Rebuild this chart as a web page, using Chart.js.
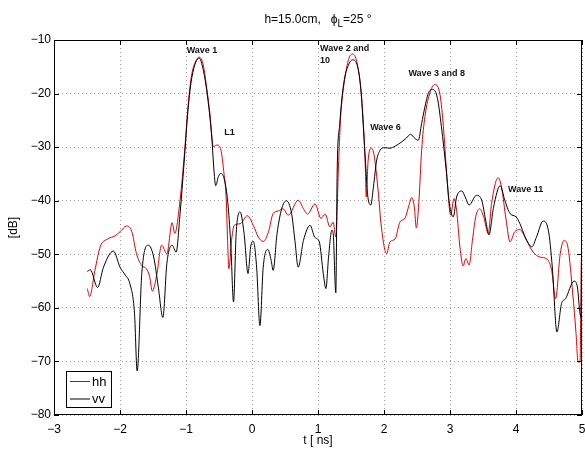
<!DOCTYPE html>
<html>
<head>
<meta charset="utf-8">
<script src="https://cdn.jsdelivr.net/npm/chart.js@4.4.0/dist/chart.umd.min.js"></script>
<style>
  html, body { margin: 0; padding: 0; background: #fff; }
  #wrap { width: 585px; height: 449px; }
</style>
</head>
<body>
<div id="wrap"><canvas id="chart" width="585" height="449"></canvas></div>
<script>
// hh polarisation (red)
const tHH = [
  -2.495, -2.46, -2.38, -2.30, -2.18, -2.08, -2.00, -1.90, -1.82, -1.75,
  -1.67, -1.60, -1.55, -1.51, -1.44, -1.37, -1.29, -1.21, -1.17, -1.09,
  -1.02, -0.97, -0.92, -0.85, -0.80, -0.74, -0.68, -0.64, -0.585, -0.53,
  -0.47, -0.43, -0.39, -0.37, -0.35, -0.31, -0.27, -0.18, -0.07, 0.02,
  0.096, 0.17, 0.25, 0.32, 0.40, 0.47, 0.55, 0.70, 0.78, 0.84,
  0.955, 1.045, 1.11, 1.18, 1.23, 1.27, 1.31, 1.34, 1.41, 1.47,
  1.525, 1.58, 1.64, 1.69, 1.72, 1.73, 1.76, 1.81, 1.85, 1.91,
  1.96, 2.04, 2.09, 2.17, 2.24, 2.32, 2.37, 2.42, 2.46, 2.49,
  2.53, 2.57, 2.62, 2.70, 2.77, 2.85, 2.90, 2.95, 3.01, 3.06,
  3.10, 3.15, 3.20, 3.24, 3.29, 3.34, 3.39, 3.45, 3.51, 3.58,
  3.63, 3.73, 3.78, 3.85, 3.91, 3.98, 4.06, 4.16, 4.26, 4.36,
  4.47, 4.54, 4.60, 4.67, 4.73, 4.79, 4.86, 4.91, 4.94, 4.97,
  4.99, 5.0
];
const dbHH = [
  -56.4, -57.9, -53.0, -48.6, -47.1, -46.6, -45.8, -44.7, -45.8, -49.9,
  -52.1, -52.7, -54.2, -56.9, -53.6, -48.3, -49.9, -44.1, -46.1, -39.9,
  -30.6, -22.5, -16.9, -13.9, -13.2, -14.6, -19.5, -23.5, -29.9, -29.6,
  -30.6, -34.3, -39.9, -47.4, -52.7, -47.4, -44.6, -44.3, -42.8, -44.6,
  -46.8, -47.6, -45.8, -42.4, -41.9, -41.5, -42.7, -39.9, -41.5, -42.5,
  -40.6, -43.3, -42.5, -44.9, -44.0, -46.8, -33.7, -25.0, -16.9, -13.4,
  -12.6, -13.7, -18.1, -26.2, -34.9, -39.3, -32.4, -30.2, -31.5, -38.0,
  -44.9, -49.9, -47.7, -47.1, -44.0, -43.2, -41.2, -39.4, -41.2, -45.1,
  -39.9, -30.6, -24.3, -19.7, -18.3, -20.3, -26.2, -34.9, -42.7, -39.6,
  -41.8, -48.6, -52.2, -50.8, -52.0, -47.4, -43.0, -41.5, -43.0, -46.1,
  -40.5, -35.7, -37.4, -43.6, -47.7, -45.8, -45.4, -47.4, -49.6, -50.5,
  -50.9, -53.0, -58.3, -49.9, -47.4, -48.9, -57.4, -64.8, -70.1, -70.1,
  -51.1, -50.0
];

// vv polarisation (black)
const tVV = [
  -2.495, -2.45, -2.34, -2.25, -2.10, -2.00, -1.92, -1.85, -1.78, -1.74,
  -1.67, -1.57, -1.49, -1.42, -1.35, -1.29, -1.21, -1.15, -1.09, -1.03,
  -0.97, -0.91, -0.80, -0.74, -0.68, -0.61, -0.58, -0.55, -0.51, -0.47,
  -0.41, -0.36, -0.32, -0.28, -0.24, -0.18, -0.12, -0.06, -0.02, 0.02,
  0.07, 0.12, 0.17, 0.24, 0.29, 0.32, 0.38, 0.45, 0.52, 0.60,
  0.65, 0.70, 0.78, 0.88, 0.95, 1.02, 1.08, 1.12, 1.16, 1.21,
  1.23, 1.27, 1.29, 1.33, 1.39, 1.46, 1.525, 1.60, 1.65, 1.69,
  1.73, 1.75, 1.80, 1.84, 1.89, 1.94, 2.01, 2.09, 2.17, 2.27,
  2.34, 2.40, 2.47, 2.52, 2.57, 2.62, 2.67, 2.74, 2.81, 2.87,
  2.94, 2.99, 3.05, 3.10, 3.18, 3.23, 3.29, 3.40, 3.48, 3.54,
  3.59, 3.66, 3.76, 3.83, 3.91, 4.00, 4.06, 4.14, 4.24, 4.31,
  4.41, 4.49, 4.55, 4.62, 4.69, 4.75, 4.88, 4.93, 4.97, 5.0
];
const dbVV = [
  -53.2, -52.9, -56.2, -52.4, -49.4, -52.4, -53.9, -55.5, -61.1, -71.8,
  -53.6, -48.3, -50.5, -56.1, -61.8, -51.7, -48.3, -49.6, -42.4, -33.1,
  -23.1, -16.9, -13.4, -15.5, -20.0, -28.1, -33.7, -37.2, -35.5, -34.9,
  -36.5, -41.2, -48.6, -58.9, -46.1, -42.1, -46.1, -53.6, -48.6, -47.6,
  -52.4, -63.3, -52.4, -49.1, -51.1, -53.0, -46.1, -41.5, -40.0, -42.4,
  -47.4, -52.4, -47.4, -44.6, -46.8, -47.7, -53.6, -56.4, -50.5, -45.5,
  -46.1, -57.2, -34.9, -25.6, -18.1, -14.7, -13.7, -15.0, -19.3, -26.8,
  -34.9, -38.7, -40.8, -37.4, -32.4, -30.6, -30.1, -30.2, -29.8, -29.0,
  -28.3, -27.6, -28.4, -28.7, -25.6, -22.5, -20.0, -19.2, -20.9, -26.2,
  -34.0, -40.5, -43.0, -39.3, -38.2, -39.3, -40.8, -39.0, -39.9, -43.6,
  -46.4, -41.2, -37.2, -39.9, -42.4, -43.0, -44.3, -46.8, -48.6, -46.8,
  -43.8, -45.5, -52.4, -64.5, -59.2, -58.3, -55.0, -56.1, -61.1, -62.0
];

const xTicks = [-3, -2, -1, 0, 1, 2, 3, 4, 5];
const yTicks = [-80, -70, -60, -50, -40, -30, -20, -10];

// text notes in data coordinates (left edge, vertical middle)
const noteText = ['Wave 1', 'L1', 'Wave 2 and', '10', 'Wave 6', 'Wave 3 and 8', 'Wave 11'];
const noteT    = [-0.99, -0.42, 1.03, 1.03, 1.79, 2.37, 3.88];
const noteDb   = [-12.05, -27.2, -11.55, -13.85, -26.4, -16.2, -38.0];

const RED = '#e00000';
const FONT = '"Liberation Sans", Arial, Helvetica, sans-serif';

function pts(t, v) {
  return t.map((x, i) => ({ x: x, y: v[i] }));
}

function minus(v) {
  return v < 0 ? '\u2212' + Math.abs(v) : String(v);
}

const decor = {
  id: 'decor',
  afterDraw(chart) {
    const ctx = chart.ctx;
    const a = chart.chartArea;
    const xs = chart.scales.x, ys = chart.scales.y;
    ctx.save();

    // box + inward ticks
    ctx.strokeStyle = '#000';
    ctx.lineWidth = 1;
    ctx.strokeRect(Math.round(a.left) + 0.5, Math.round(a.top) + 0.5,
                   Math.round(a.right - a.left) - 1, Math.round(a.bottom - a.top) - 1);
    ctx.beginPath();
    xTicks.forEach(v => {
      const px = Math.round(xs.getPixelForValue(v)) + 0.5;
      ctx.moveTo(px, a.bottom); ctx.lineTo(px, a.bottom - 5);
      ctx.moveTo(px, a.top); ctx.lineTo(px, a.top + 5);
    });
    yTicks.forEach(v => {
      const py = Math.round(ys.getPixelForValue(v)) + 0.5;
      ctx.moveTo(a.left, py); ctx.lineTo(a.left + 5, py);
      ctx.moveTo(a.right, py); ctx.lineTo(a.right - 5, py);
    });
    ctx.stroke();

    // notes
    ctx.fillStyle = '#111';
    ctx.font = 'bold 9px ' + FONT;
    ctx.textAlign = 'left';
    ctx.textBaseline = 'middle';
    noteText.forEach((s, i) => {
      ctx.fillText(s, xs.getPixelForValue(noteT[i]), ys.getPixelForValue(noteDb[i]));
    });

    // title with subscript
    ctx.fillStyle = '#000';
    ctx.textBaseline = 'alphabetic';
    const f = '12px ' + FONT, fs = '10px ' + FONT;
    const p1 = 'h=15.0cm,   \u03d5', p2 = 'L', p3 = '=25 \u00b0';
    ctx.font = f; const w1 = ctx.measureText(p1).width, w3 = ctx.measureText(p3).width;
    ctx.font = fs; const w2 = ctx.measureText(p2).width;
    let x0 = (a.left + a.right) / 2 - (w1 + w2 + w3) / 2;
    const by = 23;
    ctx.font = f; ctx.fillText(p1, x0, by); x0 += w1;
    ctx.font = fs; ctx.fillText(p2, x0, by + 4); x0 += w2;
    ctx.font = f; ctx.fillText(p3, x0, by);

    // axis titles
    ctx.font = '12px ' + FONT;
    ctx.textAlign = 'center';
    ctx.fillText('t [ ns]', (a.left + a.right) / 2, 444);
    ctx.save();
    ctx.translate(17, (a.top + a.bottom) / 2);
    ctx.rotate(-Math.PI / 2);
    ctx.fillText('[dB]', 0, 0);
    ctx.restore();

    // legend
    ctx.fillStyle = '#fff';
    ctx.fillRect(66, 371, 45, 36);
    ctx.strokeStyle = '#000';
    ctx.strokeRect(66.5, 371.5, 45, 36);
    const rows = [['hh', RED, 381.5], ['vv', '#000', 399]];
    rows.forEach(r => {
      ctx.strokeStyle = r[1];
      ctx.beginPath(); ctx.moveTo(70, r[2]); ctx.lineTo(90, r[2]); ctx.stroke();
      ctx.fillStyle = '#000';
      ctx.textAlign = 'left';
      ctx.textBaseline = 'middle';
      ctx.font = '13px ' + FONT;
      ctx.fillText(r[0], 92, r[2] + 0.5);
    });
    ctx.restore();
  }
};

new Chart(document.getElementById('chart').getContext('2d'), {
  type: 'line',
  data: {
    datasets: [
      { label: 'hh', data: pts(tHH, dbHH), borderColor: RED, borderWidth: 1,
        pointRadius: 0, cubicInterpolationMode: 'monotone', fill: false, order: 2 },
      { label: 'vv', data: pts(tVV, dbVV), borderColor: '#000', borderWidth: 1,
        pointRadius: 0, cubicInterpolationMode: 'monotone', fill: false, order: 1 }
    ]
  },
  options: {
    responsive: false,
    animation: false,
    layout: { padding: { top: 40, right: 3, left: 0, bottom: 0 } },
    plugins: { legend: { display: false }, tooltip: { enabled: false } },
    scales: {
      x: {
        type: 'linear', min: -3, max: 5,
        afterBuildTicks: s => { s.ticks = xTicks.map(v => ({ value: v })); },
        afterFit: s => { s.height = 34; s.paddingLeft = 0; s.paddingRight = 0; },
        ticks: { callback: minus, color: '#000', padding: 7, maxRotation: 0,
                 font: { family: FONT, size: 12 } },
        grid: { color: '#a0a0a0', drawTicks: false },
        border: { display: false, dash: [1, 3] }
      },
      y: {
        type: 'linear', min: -80, max: -10,
        afterBuildTicks: s => { s.ticks = yTicks.map(v => ({ value: v })); },
        afterFit: s => { s.width = 54; s.paddingTop = 0; s.paddingBottom = 0; },
        ticks: { callback: minus, color: '#000', padding: 3,
                 font: { family: FONT, size: 12 } },
        grid: { color: '#a0a0a0', drawTicks: false },
        border: { display: false, dash: [1, 3] }
      }
    }
  },
  plugins: [decor]
});
</script>
</body>
</html>
